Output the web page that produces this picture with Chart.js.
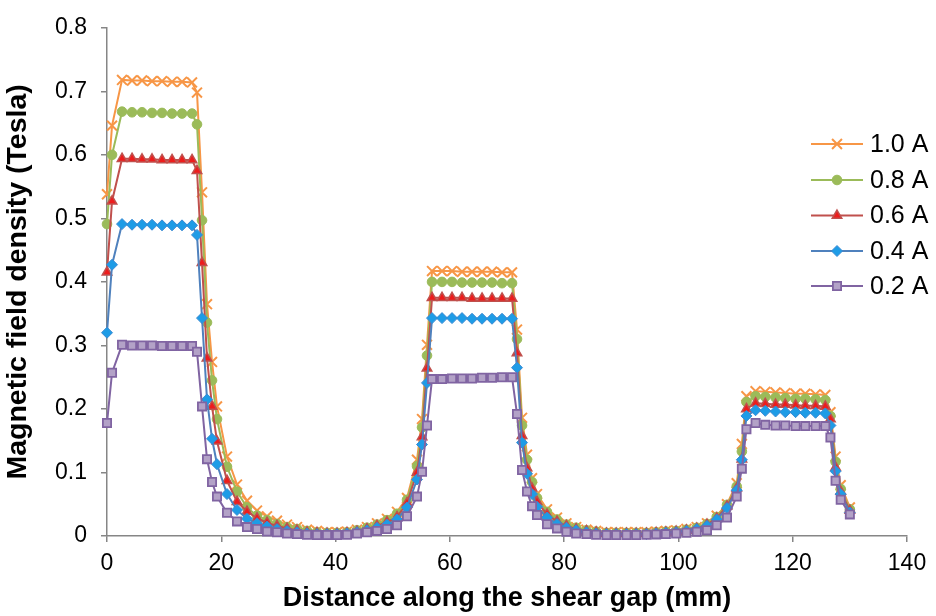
<!DOCTYPE html>
<html><head><meta charset="utf-8">
<script src="https://cdn.jsdelivr.net/npm/chart.js@4.4.0/dist/chart.umd.min.js"></script>
<style>html,body{margin:0;padding:0;background:#fff;}#wrap{width:936px;height:616px;}</style>
</head><body><div id="wrap"><canvas id="c" width="936" height="616"></canvas></div>
<script>
const seriesNames = ['1.0 A', '0.8 A', '0.6 A', '0.4 A', '0.2 A'];
const xTickLabels = ['0', '20', '40', '60', '80', '100', '120', '140'];
const yTickLabels = ['0', '0.1', '0.2', '0.3', '0.4', '0.5', '0.6', '0.7', '0.8'];
const xTitle = 'Distance along the shear gap (mm)';
const yTitle = 'Magnetic field density (Tesla)';

// distance along the shear gap (mm), shared by all series
const distanceMm = [
  0, 0.88, 2.63, 4.38, 6.13, 7.88, 9.63, 11.38, 13.13, 14.88,
  15.75, 16.63, 17.5, 18.38, 19.25,
  21, 22.75, 24.5, 26.25, 28, 29.75, 31.5, 33.25, 35, 36.75, 38.5, 40.25, 42, 43.75, 45.5, 47.25, 49, 50.75, 52.5, 54.25,
  55.13, 56,
  56.88, 58.63, 60.38, 62.13, 63.88, 65.63, 67.38, 69.13, 70.88,
  71.75, 72.63, 73.5, 74.38, 75.25,
  77, 78.75, 80.4, 82.1, 83.9, 85.6, 87.4, 89.1, 90.9, 92.6, 94.4, 96.1, 97.8, 99.6, 101.4, 103.2, 105.0, 106.7, 108.5, 110.2,
  111.1,
  111.9, 113.5, 115.2, 117.0, 118.7, 120.5, 122.2, 124.0, 125.7,
  126.6, 127.5, 128.4, 130.0
];

const b10 = [
  0.538, 0.646, 0.718, 0.717, 0.717, 0.716, 0.716, 0.715, 0.715, 0.714,
  0.698, 0.541, 0.365, 0.274, 0.204,
  0.125, 0.081, 0.0555, 0.040, 0.031, 0.024, 0.018, 0.014, 0.010, 0.008, 0.006, 0.006, 0.007, 0.010, 0.014, 0.020, 0.027, 0.038, 0.060, 0.120,
  0.184, 0.301,
  0.417, 0.417, 0.417, 0.416, 0.416, 0.416, 0.416, 0.415, 0.415,
  0.325, 0.186, 0.128, 0.091, 0.066,
  0.042, 0.029, 0.020, 0.014, 0.010, 0.008, 0.006, 0.006, 0.006, 0.006, 0.006, 0.007, 0.008, 0.009, 0.011, 0.014, 0.020, 0.032, 0.050, 0.083,
  0.145,
  0.220, 0.228, 0.227, 0.226, 0.225, 0.224, 0.224, 0.223, 0.222,
  0.195, 0.125, 0.080, 0.045
];
const b08 = [
  0.491, 0.600, 0.668, 0.667, 0.667, 0.666, 0.666, 0.665, 0.665, 0.665,
  0.648, 0.497, 0.336, 0.245, 0.184,
  0.109, 0.0698, 0.045, 0.032, 0.025, 0.019, 0.014, 0.011, 0.008, 0.006, 0.005, 0.005, 0.006, 0.009, 0.013, 0.018, 0.025, 0.035, 0.057, 0.110,
  0.171, 0.284,
  0.400, 0.400, 0.400, 0.399, 0.399, 0.399, 0.399, 0.398, 0.398,
  0.310, 0.174, 0.120, 0.085, 0.060,
  0.038, 0.026, 0.018, 0.013, 0.009, 0.007, 0.005, 0.005, 0.005, 0.005, 0.005, 0.006, 0.007, 0.008, 0.010, 0.013, 0.019, 0.030, 0.049, 0.078,
  0.133,
  0.211, 0.220, 0.219, 0.218, 0.217, 0.216, 0.216, 0.215, 0.214,
  0.189, 0.117, 0.074, 0.042
];
const b06 = [
  0.415, 0.527, 0.594, 0.594, 0.593, 0.593, 0.592, 0.592, 0.592, 0.592,
  0.575, 0.430, 0.280, 0.204, 0.149,
  0.087, 0.054, 0.0385, 0.028, 0.021, 0.016, 0.012, 0.009, 0.006, 0.005, 0.004, 0.004, 0.005, 0.007, 0.011, 0.016, 0.022, 0.030, 0.052, 0.100,
  0.156, 0.264,
  0.375, 0.375, 0.375, 0.375, 0.374, 0.374, 0.374, 0.374, 0.374,
  0.288, 0.158, 0.107, 0.075, 0.054,
  0.034, 0.023, 0.016, 0.011, 0.008, 0.006, 0.004, 0.004, 0.004, 0.004, 0.004, 0.005, 0.006, 0.007, 0.009, 0.012, 0.018, 0.028, 0.047, 0.075,
  0.121,
  0.200, 0.209, 0.208, 0.207, 0.207, 0.206, 0.205, 0.205, 0.204,
  0.184, 0.108, 0.070, 0.040
];
const b04 = [
  0.320, 0.427, 0.491, 0.490, 0.490, 0.490, 0.489, 0.489, 0.489, 0.489,
  0.474, 0.343, 0.215, 0.153, 0.113,
  0.066, 0.041, 0.027, 0.020, 0.015, 0.011, 0.008, 0.006, 0.004, 0.003, 0.003, 0.003, 0.004, 0.006, 0.009, 0.013, 0.018, 0.026, 0.045, 0.089,
  0.144, 0.241,
  0.343, 0.343, 0.343, 0.343, 0.342, 0.342, 0.342, 0.342, 0.342,
  0.265, 0.147, 0.098, 0.066, 0.046,
  0.029, 0.019, 0.013, 0.009, 0.006, 0.004, 0.003, 0.003, 0.003, 0.003, 0.003, 0.004, 0.005, 0.006, 0.008, 0.011, 0.016, 0.026, 0.044, 0.072,
  0.120,
  0.189, 0.198, 0.197, 0.196, 0.195, 0.195, 0.194, 0.194, 0.193,
  0.174, 0.102, 0.066, 0.037
];
const b02 = [
  0.178, 0.257, 0.301, 0.300, 0.300, 0.300, 0.299, 0.299, 0.299, 0.299,
  0.290, 0.204, 0.121, 0.085, 0.062,
  0.0365, 0.023, 0.014, 0.011, 0.007, 0.006, 0.004, 0.003, 0.002, 0.0015, 0.0015, 0.0015, 0.002, 0.004, 0.006, 0.008, 0.011, 0.017, 0.031, 0.062,
  0.101, 0.174,
  0.247, 0.247, 0.248, 0.248, 0.248, 0.249, 0.249, 0.250, 0.250,
  0.192, 0.104, 0.070, 0.047, 0.033,
  0.0185, 0.012, 0.0066, 0.004, 0.003, 0.002, 0.0015, 0.0015, 0.0015, 0.0015, 0.002, 0.0025, 0.003, 0.004, 0.005, 0.0066, 0.009, 0.017, 0.029, 0.062,
  0.106,
  0.168, 0.178, 0.175, 0.174, 0.174, 0.173, 0.173, 0.173, 0.173,
  0.155, 0.087, 0.057, 0.034
];

const FONT = "'Liberation Sans', Arial, sans-serif";
const toPts = arr => arr.map((v, i) => ({ x: distanceMm[i], y: v }));

const styles = [
  { line: '#F79646', fill: '#F79646', border: '#F79646', ps: 'crossRot', r: 7, bw: 2 },
  { line: '#9BBB59', fill: '#9BBB59', border: '#9BBB59', ps: 'circle', r: 4.8, bw: 1 },
  { line: '#C0504D', fill: '#EE1C1C', border: '#C0504D', ps: 'triangle', r: 5.5, bw: 1.5 },
  { line: '#4F81BD', fill: '#1E9CE6', border: '#3B8AD2', ps: 'rectRot', r: 5.5, bw: 1 },
  { line: '#8064A2', fill: '#B3A2C7', border: '#8064A2', ps: 'rect', r: 5.8, bw: 1.8 }
];
const allSeries = [b10, b08, b06, b04, b02];

const datasets = allSeries.map((d, i) => ({
  label: seriesNames[i],
  data: toPts(d),
  borderColor: styles[i].line,
  backgroundColor: styles[i].fill,
  borderWidth: 2,
  pointStyle: styles[i].ps,
  pointRadius: styles[i].r,
  pointBackgroundColor: styles[i].fill,
  pointBorderColor: styles[i].border,
  pointBorderWidth: styles[i].bw,
  tension: 0,
  order: 5 - i,
  clip: false,
  showLine: true
}));

const legendPlugin = {
  id: 'customLegend',
  afterDraw(chart) {
    const ctx = chart.ctx;
    const x0 = 811, x1 = 863, xm = 837, tx = 870;
    const ys = [144, 180, 215.5, 251, 286];
    ctx.save();
    datasets.forEach((ds, i) => {
      const y = ys[i];
      ctx.strokeStyle = ds.borderColor;
      ctx.lineWidth = 2;
      ctx.beginPath(); ctx.moveTo(x0, y); ctx.lineTo(x1, y); ctx.stroke();
      ctx.fillStyle = ds.pointBackgroundColor;
      ctx.strokeStyle = ds.pointBorderColor;
      ctx.lineWidth = ds.pointBorderWidth;
      Chart.helpers.drawPoint(ctx, { pointStyle: ds.pointStyle, radius: ds.pointRadius, rotation: 0, borderWidth: ds.pointBorderWidth }, xm, y);
      ctx.fillStyle = '#000';
      ctx.font = '25px ' + FONT;
      ctx.textAlign = 'left';
      ctx.textBaseline = 'middle';
      ctx.fillText(ds.label, tx, y + 1);
    });
    ctx.restore();
  }
};

new Chart(document.getElementById('c'), {
  type: 'scatter',
  data: { datasets },
  plugins: [legendPlugin],
  options: {
    responsive: false,
    animation: false,
    devicePixelRatio: 1,
    layout: { padding: { left: 0, right: 29, top: 17, bottom: 0 } },
    plugins: { legend: { display: false }, tooltip: { enabled: false } },
    scales: {
      x: {
        type: 'linear', min: 0, max: 140,
        afterFit: s => { s.height = 80; },
        ticks: { stepSize: 20, color: '#000', font: { size: 23, family: FONT }, padding: 8, maxRotation: 0, autoSkip: false,
          callback: (v, i) => xTickLabels[i] },
        grid: { display: true, drawOnChartArea: false, drawTicks: true, tickLength: 6, color: '#868686', lineWidth: 1.5 },
        border: { display: true, color: '#868686', width: 1.5 },
        title: { display: true, text: xTitle, color: '#000', font: { size: 27, weight: 'bold', family: FONT }, padding: { top: 0, bottom: 1 } }
      },
      y: {
        type: 'linear', min: 0, max: 0.8,
        afterFit: s => { s.width = 107; },
        ticks: { stepSize: 0.1, color: '#000', font: { size: 23, family: FONT }, padding: 14,
          callback: (v, i) => yTickLabels[i] },
        grid: { display: true, drawOnChartArea: false, drawTicks: true, tickLength: 6, color: '#868686', lineWidth: 1.5 },
        border: { display: true, color: '#868686', width: 1.5 },
        title: { display: true, text: yTitle, color: '#000', font: { size: 28.5, weight: 'bold', family: FONT }, padding: { top: 1, bottom: 0 } }
      }
    }
  }
});
</script>
</body></html>
